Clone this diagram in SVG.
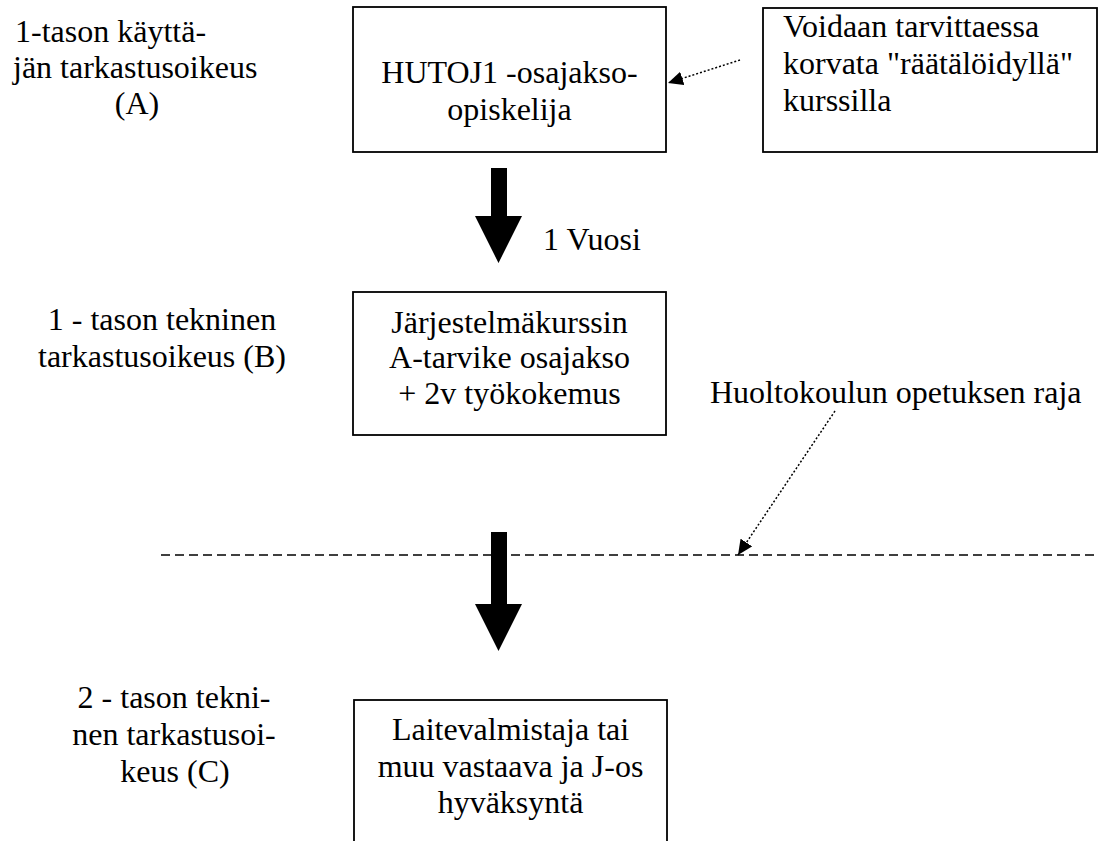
<svg xmlns="http://www.w3.org/2000/svg" width="1098" height="841" viewBox="0 0 1098 841">
<style>
text{font-family:"Liberation Serif","Times New Roman",serif;font-size:32px;fill:#000}
.box{fill:#fff;stroke:#000;stroke-width:1.8}
.mid{text-anchor:middle}
.dot{fill:none;stroke:#000;stroke-width:1.5;stroke-dasharray:2 2}
.dash{fill:none;stroke:#000;stroke-width:1.6;stroke-dasharray:9 5}
.big{fill:#000}
</style>
<defs>
<marker id="ah" markerUnits="userSpaceOnUse" markerWidth="16" markerHeight="14" refX="15" refY="7" orient="auto">
<path d="M0,0 L15,7 L0,14 z" fill="#000"/>
</marker>
</defs>
<rect width="1098" height="841" fill="#fff"/>

<g id="label-A">
<text x="15" y="42">1-tason käyttä-</text>
<text x="13" y="78">jän tarkastusoikeus</text>
<text x="137" y="114" class="mid">(A)</text>
</g>
<g id="label-B">
<text x="162" y="330" class="mid">1 - tason tekninen</text>
<text x="162" y="367" class="mid">tarkastusoikeus (B)</text>
</g>
<g id="label-C">
<text x="174" y="708" class="mid">2 - tason tekni-</text>
<text x="174" y="745" class="mid">nen tarkastusoi-</text>
<text x="175" y="782" class="mid">keus (C)</text>
</g>

<g id="node-A">
<rect class="box" x="353" y="7" width="313" height="145"/>
<text x="509.5" y="83" class="mid">HUTOJ1 -osajakso-</text>
<text x="509.5" y="120" class="mid">opiskelija</text>
</g>
<g id="node-note">
<rect class="box" x="763" y="8" width="334" height="144"/>
<text x="783" y="37">Voidaan tarvittaessa</text>
<text x="783" y="74">korvata "räätälöidyllä"</text>
<text x="783" y="111">kurssilla</text>
</g>
<g id="node-B">
<rect class="box" x="353" y="292" width="313" height="143"/>
<text x="509.5" y="333" class="mid">Järjestelmäkurssin</text>
<text x="509.5" y="368" class="mid">A-tarvike osajakso</text>
<text x="509.5" y="404" class="mid">+ 2v työkokemus</text>
</g>
<g id="node-C">
<rect class="box" x="354" y="700" width="313" height="160"/>
<text x="510.5" y="740" class="mid">Laitevalmistaja tai</text>
<text x="510.5" y="777" class="mid">muu vastaava ja J-os</text>
<text x="510.5" y="813" class="mid">hyväksyntä</text>
</g>
<g id="label-raja">
<text x="710" y="403">Huoltokoulun opetuksen raja</text>
</g>
<g id="label-vuosi">
<text x="543" y="250">1 Vuosi</text>
</g>

<g id="connectors">
<line class="dash" x1="161" y1="555" x2="1098" y2="555"/>
<polygon class="big" points="491,168 507,168 507,216 522,216 498.5,263 475,216 491,216"/>
<polygon class="big" points="491,532 507,532 507,604 522,604 498.5,651 475,604 491,604"/>
<line class="dot" x1="740" y1="60" x2="668" y2="83" marker-end="url(#ah)"/>
<line class="dot" x1="835" y1="411" x2="738" y2="555" marker-end="url(#ah)"/>
</g>
</svg>
